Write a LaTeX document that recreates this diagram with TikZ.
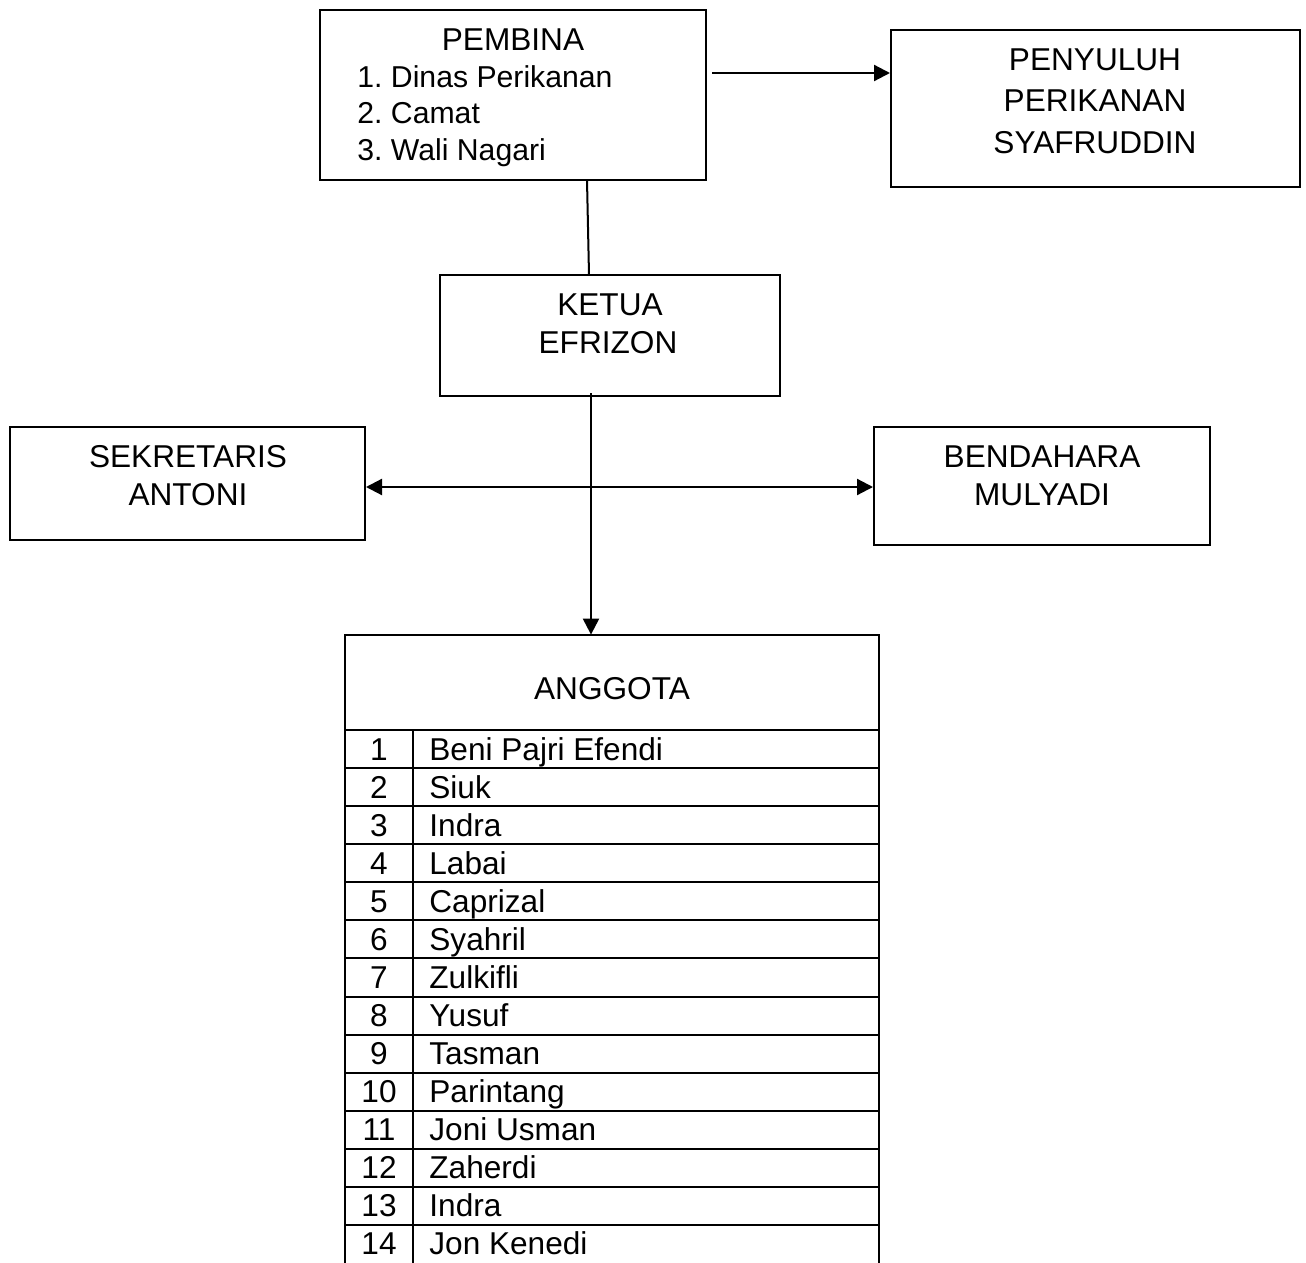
\documentclass[tikz,border=0pt]{standalone}
\usepackage{fontspec}
\setmainfont{Liberation Sans}
\usetikzlibrary{arrows.meta,fit}
\frenchspacing
\begin{document}
\begin{tikzpicture}[x=0.5pt,y=-0.5pt,
  box/.style={draw=black,line width=1pt,inner sep=0pt},
  txt/.style={font=\fontsize{15.8}{19}\selectfont,inner sep=0pt,anchor=base},
  ltxt/.style={txt,anchor=base west},
  listtxt/.style={ltxt,font=\fontsize{15.1}{19}\selectfont},
  conn/.style={line width=1pt},
  arr/.style={line width=1.1pt,-{Triangle[length=8pt,width=8pt]}},
  darr/.style={line width=1.1pt,{Triangle[length=8pt,width=8pt]}-{Triangle[length=8pt,width=8pt]}}]
\useasboundingbox (0,0) rectangle (1306,1263);
% boxes
\node[box,fit={(320,10)(706,180)}] (pembina) {};
\node[box,fit={(891,30)(1300,187)}] (penyuluh) {};
\node[box,fit={(440,275)(780,396)}] (ketua) {};
\node[box,fit={(10,427)(365,540)}] (sekretaris) {};
\node[box,fit={(874,427)(1210,545)}] (bendahara) {};
% texts
\node[txt] (t1) at (513,51) {PEMBINA};
\node[listtxt] (t2) at (357,88) {1. Dinas Perikanan};
\node[listtxt] (t3) at (357,124) {2. Camat};
\node[listtxt] (t4) at (357,161) {3. Wali Nagari};
\node[txt] (t5) at (1095,71) {PENYULUH};
\node[txt] (t6) at (1095,112) {PERIKANAN};
\node[txt] (t7) at (1095,154) {SYAFRUDDIN};
\node[txt] (t8) at (610,315) {KETUA};
\node[txt] (t9) at (608,353) {EFRIZON};
\node[txt] (t10) at (188,467) {SEKRETARIS};
\node[txt] (t11) at (188,505) {ANTONI};
\node[txt] (t12) at (1042,467) {BENDAHARA};
\node[txt] (t13) at (1042,505) {MULYADI};
% table
\coordinate (tl) at (345,635);
\coordinate (tr) at (879,635);
\coordinate (bl) at (345,1263);
\coordinate (br) at (879,1263);
\node[inner sep=0pt,fit={(345,635)(879,730)}] (anggota) {};
\draw[conn] (bl) -- (tl) -- (tr) -- (br);
\node[txt] (t14) at (612,699) {ANGGOTA};
\foreach \i in {0,...,13}{
  \draw[conn] (345,{730+38.07*\i}) -- (879,{730+38.07*\i});
}
\draw[conn] (413,730) -- (413,1263);
\foreach \n/\name [count=\k from 0] in {1/Beni Pajri Efendi,2/Siuk,3/Indra,4/Labai,5/Caprizal,6/Syahril,7/Zulkifli,8/Yusuf,9/Tasman,10/Parintang,11/Joni Usman,12/Zaherdi,13/Indra,14/Jon Kenedi}{
  \node[txt] (num\n) at (379,{730+38.07*\k+30}) {\n};
  \node[ltxt] (nm\n) at (429,{730+38.07*\k+30}) {\name};
}
% connectors
\coordinate (a1) at (712,73);
\draw[arr] (a1) -- (a1 -| penyuluh.west);
\coordinate (p1) at (587,180);
\coordinate (p2) at (589,275);
\draw[conn] (p1) -- (p2);
\coordinate (k1) at (591,393);
\draw[arr] (k1) -- (k1 |- anggota.north);
\coordinate (h) at (591,487);
\draw[darr] (h -| sekretaris.east) -- (h -| bendahara.west);
\end{tikzpicture}
\end{document}
